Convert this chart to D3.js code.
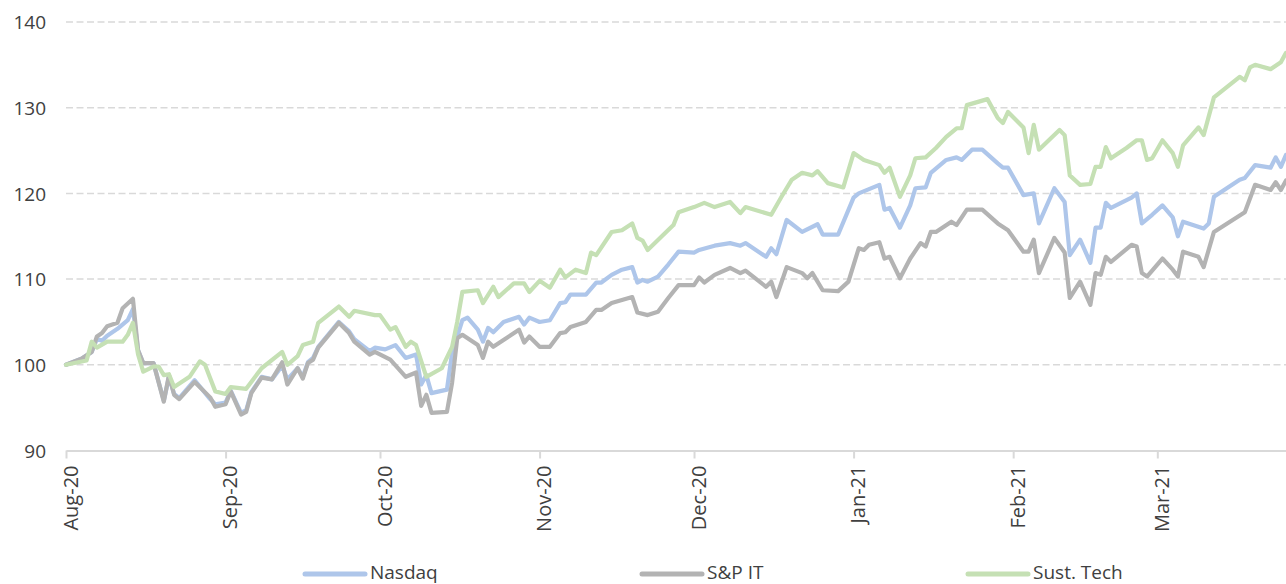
<!DOCTYPE html>
<html>
<head>
<meta charset="utf-8">
<script src="https://cdn.jsdelivr.net/npm/d3@7"></script>
<style>
  html, body { margin: 0; padding: 0; background: #ffffff; }
  svg { display: block; }
</style>
</head>
<body>
<svg id="chart" width="1286" height="584"></svg>
<script>
// ---------------- DATA ----------------
const seriesNames = ["Nasdaq", "S&P IT", "Sust. Tech"];
const yTicks = [90, 100, 110, 120, 130, 140];
const xStart = "2020-08-01";
const xEnd = "2021-03-26";

const nasdaq = [
  ["2020-08-01",100.0],["2020-08-04",100.7],["2020-08-06",101.5],["2020-08-07",103.0],["2020-08-08",102.8],
  ["2020-08-09",103.4],["2020-08-11",104.2],["2020-08-13",105.2],["2020-08-14",106.5],["2020-08-15",101.7],
  ["2020-08-16",100.2],["2020-08-18",100.2],["2020-08-20",95.8],["2020-08-21",98.6],["2020-08-22",96.6],
  ["2020-08-23",96.1],["2020-08-26",98.2],["2020-08-29",96.0],["2020-08-30",95.4],["2020-09-01",95.6],
  ["2020-09-02",97.0],["2020-09-04",94.4],["2020-09-05",94.7],["2020-09-06",96.8],["2020-09-08",98.6],
  ["2020-09-10",98.3],["2020-09-12",99.9],["2020-09-13",98.3],["2020-09-15",99.6],["2020-09-16",98.6],
  ["2020-09-17",100.3],["2020-09-18",100.8],["2020-09-19",102.1],["2020-09-23",105.0],["2020-09-25",103.9],
  ["2020-09-26",103.0],["2020-09-29",101.6],["2020-09-30",102.0],["2020-10-02",101.8],["2020-10-04",102.3],
  ["2020-10-06",100.8],["2020-10-08",101.2],["2020-10-09",97.7],["2020-10-10",98.8],["2020-10-11",96.7],
  ["2020-10-14",97.1],["2020-10-15",101.4],["2020-10-17",105.2],["2020-10-18",105.5],["2020-10-20",104.1],
  ["2020-10-21",102.7],["2020-10-22",104.3],["2020-10-23",103.8],["2020-10-25",105.0],["2020-10-28",105.6],
  ["2020-10-29",104.7],["2020-10-30",105.5],["2020-11-01",105.0],["2020-11-03",105.2],["2020-11-05",107.2],
  ["2020-11-06",107.3],["2020-11-07",108.2],["2020-11-10",108.2],["2020-11-12",109.6],["2020-11-13",109.6],
  ["2020-11-15",110.5],["2020-11-17",111.1],["2020-11-19",111.4],["2020-11-20",109.6],["2020-11-21",109.9],
  ["2020-11-22",109.7],["2020-11-24",110.3],["2020-11-26",111.7],["2020-11-28",113.2],["2020-12-01",113.1],
  ["2020-12-02",113.4],["2020-12-05",113.9],["2020-12-08",114.2],["2020-12-10",113.9],["2020-12-11",114.2],
  ["2020-12-15",112.6],["2020-12-16",113.6],["2020-12-17",112.9],["2020-12-19",116.9],["2020-12-22",115.5],
  ["2020-12-25",116.4],["2020-12-26",115.2],["2020-12-29",115.2],["2021-01-01",119.5],["2021-01-02",120.0],
  ["2021-01-06",121.0],["2021-01-07",118.1],["2021-01-08",118.3],["2021-01-10",116.0],["2021-01-12",118.6],
  ["2021-01-13",120.6],["2021-01-15",120.7],["2021-01-16",122.4],["2021-01-19",123.9],["2021-01-21",124.2],
  ["2021-01-22",123.9],["2021-01-24",125.1],["2021-01-26",125.1],["2021-01-29",123.5],["2021-01-30",123.0],
  ["2021-01-31",123.0],["2021-02-03",119.8],["2021-02-05",120.0],["2021-02-06",116.5],["2021-02-09",120.6],
  ["2021-02-11",119.0],["2021-02-12",112.8],["2021-02-14",114.6],["2021-02-16",111.9],["2021-02-17",116.0],
  ["2021-02-18",116.0],["2021-02-19",118.9],["2021-02-20",118.3],["2021-02-24",119.5],["2021-02-25",120.0],
  ["2021-02-26",116.5],["2021-02-28",117.5],["2021-03-02",118.6],["2021-03-04",117.2],["2021-03-05",115.0],
  ["2021-03-06",116.7],["2021-03-10",115.9],["2021-03-11",116.5],["2021-03-12",119.6],["2021-03-17",121.6],
  ["2021-03-18",121.8],["2021-03-20",123.3],["2021-03-23",123.0],["2021-03-24",124.2],["2021-03-25",123.1],
  ["2021-03-26",124.5]
];

const spIT = [
  ["2020-08-01",100.0],["2020-08-04",100.7],["2020-08-06",101.5],["2020-08-07",103.3],["2020-08-08",103.7],
  ["2020-08-09",104.5],["2020-08-11",104.9],["2020-08-12",106.6],["2020-08-14",107.7],["2020-08-15",101.7],
  ["2020-08-16",100.2],["2020-08-18",100.2],["2020-08-20",95.7],["2020-08-21",98.8],["2020-08-22",96.5],
  ["2020-08-23",96.0],["2020-08-26",98.0],["2020-08-29",96.2],["2020-08-30",95.1],["2020-09-01",95.4],
  ["2020-09-02",96.9],["2020-09-04",94.2],["2020-09-05",94.5],["2020-09-06",96.7],["2020-09-08",98.5],
  ["2020-09-10",98.3],["2020-09-12",100.3],["2020-09-13",97.7],["2020-09-15",99.6],["2020-09-16",98.4],
  ["2020-09-17",100.2],["2020-09-18",100.6],["2020-09-19",102.0],["2020-09-23",104.9],["2020-09-25",103.7],
  ["2020-09-26",102.7],["2020-09-29",101.2],["2020-09-30",101.5],["2020-10-03",100.6],["2020-10-06",98.6],
  ["2020-10-08",99.1],["2020-10-09",95.2],["2020-10-10",96.5],["2020-10-11",94.4],["2020-10-14",94.5],
  ["2020-10-15",97.9],["2020-10-16",103.1],["2020-10-17",103.5],["2020-10-20",102.3],["2020-10-21",100.8],
  ["2020-10-22",102.7],["2020-10-23",102.1],["2020-10-28",104.1],["2020-10-29",102.6],["2020-10-30",103.3],
  ["2020-11-01",102.1],["2020-11-03",102.1],["2020-11-05",103.7],["2020-11-06",103.8],["2020-11-07",104.4],
  ["2020-11-10",105.0],["2020-11-12",106.4],["2020-11-13",106.4],["2020-11-15",107.2],["2020-11-19",107.9],
  ["2020-11-20",106.1],["2020-11-22",105.8],["2020-11-24",106.2],["2020-11-26",107.8],["2020-11-28",109.3],
  ["2020-12-01",109.3],["2020-12-02",110.2],["2020-12-03",109.6],["2020-12-05",110.5],["2020-12-08",111.3],
  ["2020-12-10",110.7],["2020-12-11",111.0],["2020-12-15",109.1],["2020-12-16",109.7],["2020-12-17",107.9],
  ["2020-12-19",111.4],["2020-12-22",110.7],["2020-12-23",110.1],["2020-12-24",110.7],["2020-12-26",108.7],
  ["2020-12-29",108.6],["2020-12-31",109.7],["2021-01-02",113.6],["2021-01-03",113.4],["2021-01-04",114.0],
  ["2021-01-06",114.3],["2021-01-07",112.4],["2021-01-08",112.6],["2021-01-10",110.1],["2021-01-12",112.4],
  ["2021-01-14",114.2],["2021-01-15",113.8],["2021-01-16",115.5],["2021-01-17",115.5],["2021-01-20",116.7],
  ["2021-01-21",116.3],["2021-01-23",118.1],["2021-01-26",118.1],["2021-01-29",116.5],["2021-01-31",115.7],
  ["2021-02-03",113.2],["2021-02-04",113.2],["2021-02-05",114.6],["2021-02-06",110.7],["2021-02-09",114.8],
  ["2021-02-11",113.1],["2021-02-12",107.8],["2021-02-14",109.7],["2021-02-16",107.0],["2021-02-17",110.7],
  ["2021-02-18",110.5],["2021-02-19",112.6],["2021-02-20",112.0],["2021-02-24",114.0],["2021-02-25",113.8],
  ["2021-02-26",110.7],["2021-02-27",110.3],["2021-03-02",112.4],["2021-03-04",111.1],["2021-03-05",110.3],
  ["2021-03-06",113.2],["2021-03-09",112.6],["2021-03-10",111.4],["2021-03-12",115.5],["2021-03-18",117.8],
  ["2021-03-20",121.0],["2021-03-23",120.4],["2021-03-24",121.3],["2021-03-25",120.4],["2021-03-26",121.5]
];

const sustTech = [
  ["2020-08-01",100.0],["2020-08-05",100.5],["2020-08-06",102.7],["2020-08-07",102.0],["2020-08-09",102.7],
  ["2020-08-12",102.7],["2020-08-13",103.5],["2020-08-14",104.9],["2020-08-15",101.2],["2020-08-16",99.2],
  ["2020-08-18",99.8],["2020-08-19",99.8],["2020-08-20",98.8],["2020-08-21",98.9],["2020-08-22",97.4],
  ["2020-08-25",98.6],["2020-08-27",100.4],["2020-08-28",100.0],["2020-08-30",96.9],["2020-09-01",96.6],
  ["2020-09-02",97.4],["2020-09-05",97.2],["2020-09-08",99.6],["2020-09-12",101.5],["2020-09-13",100.0],
  ["2020-09-15",101.0],["2020-09-16",102.3],["2020-09-18",102.7],["2020-09-19",104.9],["2020-09-23",106.8],
  ["2020-09-25",105.6],["2020-09-26",106.3],["2020-09-30",105.8],["2020-10-01",105.8],["2020-10-03",104.1],
  ["2020-10-04",104.4],["2020-10-06",102.1],["2020-10-07",102.7],["2020-10-08",102.3],["2020-10-10",98.6],
  ["2020-10-13",99.6],["2020-10-15",102.1],["2020-10-16",105.0],["2020-10-17",108.5],["2020-10-20",108.7],
  ["2020-10-21",107.2],["2020-10-23",109.1],["2020-10-24",107.9],["2020-10-27",109.5],["2020-10-29",109.5],
  ["2020-10-30",108.5],["2020-11-01",109.8],["2020-11-03",109.0],["2020-11-05",111.1],["2020-11-06",110.2],
  ["2020-11-08",111.1],["2020-11-10",110.7],["2020-11-11",113.1],["2020-11-12",112.8],["2020-11-15",115.5],
  ["2020-11-17",115.7],["2020-11-19",116.5],["2020-11-20",114.8],["2020-11-21",114.5],["2020-11-22",113.4],
  ["2020-11-27",116.3],["2020-11-28",117.8],["2020-12-01",118.4],["2020-12-03",118.9],["2020-12-05",118.4],
  ["2020-12-08",119.0],["2020-12-10",117.7],["2020-12-11",118.4],["2020-12-16",117.5],["2020-12-18",119.6],
  ["2020-12-20",121.6],["2020-12-22",122.4],["2020-12-24",122.1],["2020-12-25",122.6],["2020-12-27",121.2],
  ["2020-12-30",120.7],["2021-01-01",124.7],["2021-01-03",123.9],["2021-01-06",123.3],["2021-01-07",122.4],
  ["2021-01-08",123.0],["2021-01-10",119.6],["2021-01-12",122.1],["2021-01-13",124.1],["2021-01-15",124.2],
  ["2021-01-17",125.3],["2021-01-19",126.6],["2021-01-21",127.6],["2021-01-22",127.6],["2021-01-23",130.3],
  ["2021-01-27",131.0],["2021-01-29",128.8],["2021-01-30",128.2],["2021-01-31",129.5],["2021-02-03",127.7],
  ["2021-02-04",124.7],["2021-02-05",128.0],["2021-02-06",125.1],["2021-02-10",127.4],["2021-02-11",126.8],
  ["2021-02-12",122.1],["2021-02-14",121.0],["2021-02-16",121.1],["2021-02-17",123.1],["2021-02-18",123.1],
  ["2021-02-19",125.4],["2021-02-20",124.1],["2021-02-23",125.3],["2021-02-25",126.2],["2021-02-26",126.2],
  ["2021-02-27",123.9],["2021-02-28",124.1],["2021-03-02",126.2],["2021-03-04",124.7],["2021-03-05",123.1],
  ["2021-03-06",125.6],["2021-03-09",127.7],["2021-03-10",126.8],["2021-03-12",131.2],["2021-03-17",133.6],
  ["2021-03-18",133.2],["2021-03-19",134.7],["2021-03-20",135.0],["2021-03-23",134.5],["2021-03-25",135.3],
  ["2021-03-26",136.4]
];

// ---------------- STYLE ----------------
const colors = ["#aec6ea", "#b3b3b3", "#c5e0b4"];
const textColor = "#404040";
const gridColor = "#d9d9d9";

// ---------------- CHART ----------------
const svg = d3.select("#chart");
const parse = d3.utcParse("%Y-%m-%d");

const plot = { left: 66, right: 1286, top: 22, bottom: 450.5 };

const x = d3.scaleUtc()
  .domain([parse(xStart), parse(xEnd)])
  .range([plot.left, plot.right]);

const y = d3.scaleLinear()
  .domain([90, 140])
  .range([plot.bottom, plot.top]);

// gridlines (dashed) for all ticks except baseline
svg.append("g")
  .selectAll("line")
  .data(yTicks.filter(t => t !== 90))
  .join("line")
  .attr("x1", plot.left)
  .attr("x2", plot.right)
  .attr("y1", d => y(d))
  .attr("y2", d => y(d))
  .attr("stroke", gridColor)
  .attr("stroke-width", 1.5)
  .attr("stroke-dasharray", "7,3.5");

// y-axis labels
const yAxis = d3.axisLeft(y).tickValues(yTicks).tickSize(0).tickPadding(0);
const yg = svg.append("g").attr("transform", `translate(46,0)`).call(yAxis);
yg.select(".domain").remove();
yg.selectAll("text")
  .attr("x", 0)
  .attr("dy", "0.35em")
  .attr("fill", textColor)
  .style("font-family", "'Open Sans', sans-serif")
  .style("font-size", "19px");

// x-axis
const xAxis = d3.axisBottom(x)
  .ticks(d3.utcMonth.every(1))
  .tickFormat(d3.utcFormat("%b-%y"))
  .tickSize(8)
  .tickSizeOuter(0);
const xg = svg.append("g").attr("transform", `translate(0,${plot.bottom})`).call(xAxis);
xg.select(".domain").attr("stroke", gridColor).attr("stroke-width", 2);
xg.selectAll(".tick line").attr("stroke", gridColor).attr("stroke-width", 2);
xg.selectAll(".tick text")
  .attr("fill", textColor)
  .attr("text-anchor", "end")
  .attr("transform", "translate(11,15) rotate(-90)")
  .attr("x", 0)
  .attr("y", 0)
  .attr("dy", 0)
  .style("font-family", "'Open Sans', sans-serif")
  .style("font-size", "20px");

// lines
const line = d3.line()
  .x(d => x(parse(d[0])))
  .y(d => y(d[1]));

const allSeries = [nasdaq, spIT, sustTech];
svg.append("g")
  .selectAll("path")
  .data(allSeries)
  .join("path")
  .attr("d", d => line(d))
  .attr("fill", "none")
  .attr("stroke", (d, i) => colors[i])
  .attr("stroke-width", 4.2)
  .attr("stroke-linejoin", "round")
  .attr("stroke-linecap", "round");

// legend
const legendX = [305, 642, 968];
const lg = svg.append("g")
  .selectAll("g")
  .data(seriesNames)
  .join("g")
  .attr("transform", (d, i) => `translate(${legendX[i]},574)`);
lg.append("line")
  .attr("x1", 0).attr("x2", 60)
  .attr("y1", 0).attr("y2", 0)
  .attr("stroke", (d, i) => colors[i])
  .attr("stroke-width", 5)
  .attr("stroke-linecap", "round");
lg.append("text")
  .attr("x", 65)
  .attr("y", 5)
  .attr("fill", textColor)
  .style("font-family", "'Open Sans', sans-serif")
  .style("font-size", "19px")
  .text(d => d);
</script>
</body>
</html>
